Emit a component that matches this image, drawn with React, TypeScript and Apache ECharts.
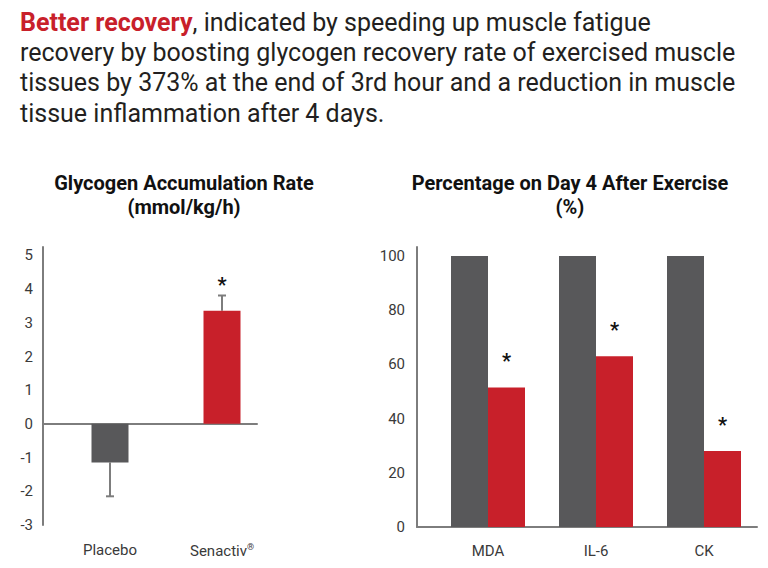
import React, { useEffect, useRef } from "react";
import * as echarts from "echarts";

const headlineLines = [
  "{r|Better recovery}, indicated by speeding up muscle fatigue",
  "recovery by boosting glycogen recovery rate of exercised muscle",
  "tissues by 373% at the end of 3rd hour and a reduction in muscle",
  "tissue inflammation after 4 days.",
];

const glyTitle = ["Glycogen Accumulation Rate", "(mmol/kg/h)"];
const glyCategories = ["Placebo", "Senactiv®"];
const glyValues = [-1.15, 3.35];
const glyErrorEnds = [-2.15, 3.8];
const glySignificant = [0, 1];

const pctTitle = ["Percentage on Day 4 After Exercise", "(%)"];
const pctCategories = ["MDA", "IL-6", "CK"];
const pctPlacebo = [100, 100, 100];
const pctSenactiv = [51.5, 63, 28];
const pctSignificant = [1, 1, 1];

const GRAY = "#58585a";
const RED = "#c8202a";
const AXIS = "#7d7d7d";
const FONT = "Roboto";

export default function App() {
  const ref = useRef<HTMLDivElement>(null);
  useEffect(() => {
    if (!ref.current) return;
    const chart = echarts.init(ref.current, undefined, { renderer: "svg" });
    const axisLabelStyle = { color: "#3a3a3a", fontSize: 15, fontFamily: FONT };
    const titleStyle = {
      fontFamily: FONT,
      fontSize: 20,
      fontWeight: "bold",
      lineHeight: 24,
      fill: "#111",
      textAlign: "center",
      textVerticalAlign: "top",
    };
    const option: any = {
      animation: false,
      backgroundColor: "#ffffff",
      graphic: [
        {
          type: "text",
          x: 20,
          y: 7,
          style: {
            text: headlineLines.join("\n"),
            fontFamily: FONT,
            fontSize: 25,
            lineHeight: 30.3,
            fill: "#231f20",
            textVerticalAlign: "top",
            rich: {
              r: { fill: RED, fontWeight: "bold", fontSize: 25, fontFamily: FONT, lineHeight: 30.3 },
            },
          },
        },
        { type: "text", x: 184, y: 171, style: { ...titleStyle, text: glyTitle.join("\n") } },
        { type: "text", x: 570, y: 171, style: { ...titleStyle, text: pctTitle.join("\n") } },
      ],
      grid: [
        { left: 43, width: 214, top: 247, height: 278 },
        { left: 54, width: 224, top: 255, height: 270 },
        { left: 417, width: 340, top: 247, height: 280 },
        { left: 434, width: 324, top: 256, height: 271 },
      ],
      xAxis: [
        {
          gridIndex: 0,
          type: "value",
          min: 0,
          max: 1,
          axisLine: { show: true, onZero: true, lineStyle: { color: AXIS, width: 2 } },
          axisTick: { show: false },
          axisLabel: { show: false },
          splitLine: { show: false },
        },
        {
          gridIndex: 1,
          type: "category",
          data: glyCategories,
          axisLine: { show: false, onZero: false },
          axisTick: { show: false },
          axisLabel: {
            ...axisLabelStyle,
            interval: 0,
            margin: 17,
            formatter: (v: string) => v.replace("®", "{sup|®}"),
            rich: { sup: { fontSize: 9, fontFamily: FONT, color: "#3a3a3a", verticalAlign: "top", padding: [0, 0, 9, 0] } },
          },
        },
        {
          gridIndex: 2,
          type: "value",
          min: 0,
          max: 1,
          axisLine: { show: true, onZero: true, lineStyle: { color: AXIS, width: 2 } },
          axisTick: { show: false },
          axisLabel: { show: false },
          splitLine: { show: false },
        },
        {
          gridIndex: 3,
          type: "category",
          data: pctCategories,
          axisLine: { show: false, onZero: false },
          axisTick: { show: false },
          axisLabel: { ...axisLabelStyle, interval: 0, margin: 16 },
        },
      ],
      yAxis: [
        {
          gridIndex: 0,
          type: "value",
          min: -3,
          max: 5.25,
          interval: 1,
          axisLine: { show: true, lineStyle: { color: AXIS, width: 2 } },
          axisTick: { show: false },
          splitLine: { show: false },
          axisLabel: { ...axisLabelStyle, margin: 10, showMaxLabel: false },
        },
        { gridIndex: 1, type: "value", min: -3, max: 5, show: false },
        {
          gridIndex: 2,
          type: "value",
          min: 0,
          max: 103.3,
          interval: 20,
          axisLine: { show: true, lineStyle: { color: AXIS, width: 2 } },
          axisTick: { show: false },
          splitLine: { show: false },
          axisLabel: { ...axisLabelStyle, margin: 12, showMaxLabel: false },
        },
        { gridIndex: 3, type: "value", min: 0, max: 100, show: false },
      ],
      series: [
        { type: "line", xAxisIndex: 0, yAxisIndex: 0, data: [], silent: true },
        { type: "line", xAxisIndex: 2, yAxisIndex: 2, data: [], silent: true },
        {
          type: "bar",
          xAxisIndex: 1,
          yAxisIndex: 1,
          barWidth: 37,
          data: glyValues.map((v, i) => ({ value: v, itemStyle: { color: i === 0 ? GRAY : RED } })),
        },
        {
          type: "custom",
          xAxisIndex: 1,
          yAxisIndex: 1,
          data: glyValues.map((v, i) => [i, v, glyErrorEnds[i], glySignificant[i]]),
          renderItem: (params: any, api: any) => {
            const x = api.value(0);
            const base = api.coord([x, api.value(1)]);
            const end = api.coord([x, api.value(2)]);
            const children: any[] = [
              { type: "line", shape: { x1: base[0], y1: base[1], x2: end[0], y2: end[1] }, style: { stroke: AXIS, lineWidth: 2 } },
              { type: "line", shape: { x1: end[0] - 4, y1: end[1], x2: end[0] + 4, y2: end[1] }, style: { stroke: AXIS, lineWidth: 2 } },
            ];
            if (api.value(3)) {
              children.push({
                type: "text",
                x: end[0],
                y: end[1] - 11,
                style: { text: "*", fontSize: 20, fontWeight: "bold", fontFamily: FONT, fill: "#111", textAlign: "center", textVerticalAlign: "middle" },
              });
            }
            return { type: "group", children };
          },
        },
        {
          type: "bar",
          xAxisIndex: 3,
          yAxisIndex: 3,
          barWidth: 37,
          barGap: "0%",
          itemStyle: { color: GRAY },
          data: pctPlacebo,
        },
        {
          type: "bar",
          xAxisIndex: 3,
          yAxisIndex: 3,
          barWidth: 37,
          barGap: "0%",
          itemStyle: { color: RED },
          data: pctSenactiv,
          label: {
            show: true,
            position: "top",
            distance: 16,
            fontSize: 20,
            fontWeight: "bold",
            fontFamily: FONT,
            color: "#111",
            formatter: (p: any) => (pctSignificant[p.dataIndex] ? "*" : ""),
          },
        },
      ],
    };
    chart.setOption(option);
    return () => chart.dispose();
  }, []);
  return <div ref={ref} style={{ position: "fixed", left: 0, top: 0, width: 768, height: 568 }} />;
}
